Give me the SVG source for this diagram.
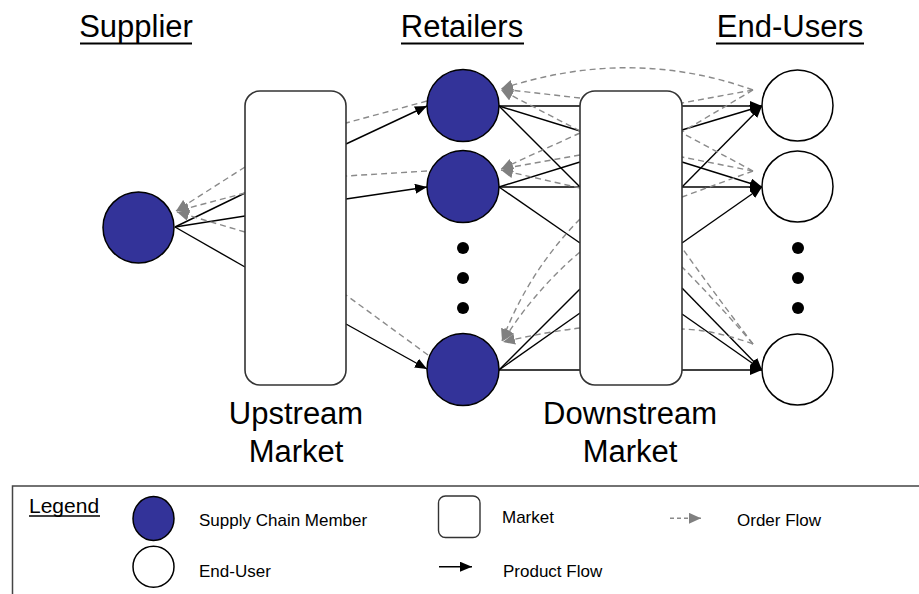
<svg xmlns="http://www.w3.org/2000/svg" width="919" height="594" viewBox="0 0 919 594">
  <defs>
    <style>
      .title { font-family: "Liberation Sans", Arial, sans-serif; font-size: 31px; fill: #000; text-anchor: middle; }
      .mlabel { font-family: "Liberation Sans", Arial, sans-serif; font-size: 31px; fill: #000; text-anchor: middle; }
      .ltext { font-family: "Liberation Sans", Arial, sans-serif; font-size: 17px; fill: #000; }
      .member { fill: #333399; stroke: #000; stroke-width: 1.5; }
      .enduser { fill: #fff; stroke: #000; stroke-width: 1.5; }
      .market { fill: #fff; stroke: #333; stroke-width: 1.6; }
      .dot { fill: #000; }
      .product { fill: none; stroke: #000; stroke-width: 1.4; }
      .order { fill: none; stroke: #8a8a8a; stroke-width: 1.4; stroke-dasharray: 6 4; }
      .ul { stroke: #000; stroke-width: 2.2; }
    </style>
    <marker id="arrowProduct" markerUnits="userSpaceOnUse" markerWidth="12" markerHeight="10" refX="12" refY="5" orient="auto">
      <path d="M0,0 L12,5 L0,10 z" fill="#000"/>
    </marker>
    <marker id="arrowOrder" markerUnits="userSpaceOnUse" markerWidth="12" markerHeight="11" refX="12" refY="5.5" orient="auto">
      <path d="M0,0 L12,5.5 L0,11 z" fill="#808080"/>
    </marker>
  </defs>

  <rect width="919" height="594" fill="#fff"/>

  <!-- column headings -->
  <g id="headings">
    <text class="title" x="136" y="37">Supplier</text>
    <line class="ul" x1="80" y1="43.5" x2="192" y2="43.5"/>
    <text class="title" x="462" y="37">Retailers</text>
    <line class="ul" x1="401" y1="43.5" x2="524" y2="43.5"/>
    <text class="title" x="790" y="37">End-Users</text>
    <line class="ul" x1="716" y1="43.5" x2="864" y2="43.5"/>
  </g>

  <!-- connectors -->
  <g id="connectors">
    <!-- supplier <-> upstream market -->
    <path class="product" d="M175,227 L245,193"/>
    <path class="product" d="M175,227 L245,216"/>
    <path class="product" d="M175,227 L245,267"/>
    <path class="order" d="M245,167 L176,211" marker-end="url(#arrowOrder)"/>
    <path class="order" d="M245,193 L177,211" marker-end="url(#arrowOrder)"/>
    <path class="order" d="M245,232 L177,212" marker-end="url(#arrowOrder)"/>

    <!-- upstream market <-> retailers -->
    <path class="product" d="M346,144 L427,106" marker-end="url(#arrowProduct)"/>
    <path class="product" d="M346,199 L427,187" marker-end="url(#arrowProduct)"/>
    <path class="product" d="M346,324 L427,369" marker-end="url(#arrowProduct)"/>
    <path class="order" d="M427,101 L346,123"/>
    <path class="order" d="M427,171 L346,176"/>
    <path class="order" d="M428,355 L346,295"/>

    <!-- retailers -> downstream market (product) -->
    <path class="product" d="M499,106 L580,106"/>
    <path class="product" d="M499,106 L580,131"/>
    <path class="product" d="M499,106 L580,187"/>
    <path class="product" d="M499,187 L580,162"/>
    <path class="product" d="M499,187 L580,187"/>
    <path class="product" d="M499,187 L580,243"/>
    <path class="product" d="M499,370 L580,289"/>
    <path class="product" d="M499,370 L580,313"/>
    <path class="product" d="M499,370 L580,370"/>

    <!-- downstream market -> retailers (orders) -->
    <path class="order" d="M753,90 Q630,46 501,89" marker-end="url(#arrowOrder)"/>
    <path class="order" d="M580,98 L501,89" marker-end="url(#arrowOrder)"/>
    <path class="order" d="M580,131 L501,90" marker-end="url(#arrowOrder)"/>
    <path class="order" d="M580,133 L501,169" marker-end="url(#arrowOrder)"/>
    <path class="order" d="M580,155 L501,169" marker-end="url(#arrowOrder)"/>
    <path class="order" d="M580,188 L501,170" marker-end="url(#arrowOrder)"/>
    <path class="order" d="M580,219 Q528,272 502,341" marker-end="url(#arrowOrder)"/>
    <path class="order" d="M580,252 Q535,290 503,341" marker-end="url(#arrowOrder)"/>
    <path class="order" d="M580,328 Q545,332 503,342" marker-end="url(#arrowOrder)"/>

    <!-- downstream market -> end-users (product) -->
    <path class="product" d="M682,106 L762,106" marker-end="url(#arrowProduct)"/>
    <path class="product" d="M682,130 L762,106" marker-end="url(#arrowProduct)"/>
    <path class="product" d="M682,187 L762,106" marker-end="url(#arrowProduct)"/>
    <path class="product" d="M682,162 L762,187" marker-end="url(#arrowProduct)"/>
    <path class="product" d="M682,187 L762,187" marker-end="url(#arrowProduct)"/>
    <path class="product" d="M682,243 L762,187" marker-end="url(#arrowProduct)"/>
    <path class="product" d="M682,288 L762,370" marker-end="url(#arrowProduct)"/>
    <path class="product" d="M682,314 L762,370" marker-end="url(#arrowProduct)"/>
    <path class="product" d="M682,370 L762,370" marker-end="url(#arrowProduct)"/>

    <!-- end-users -> downstream market (orders) -->
    <path class="order" d="M753,90 L682,103"/>
    <path class="order" d="M753,90 L682,132"/>
    <path class="order" d="M753,171 L682,133"/>
    <path class="order" d="M753,171 L682,157"/>
    <path class="order" d="M753,171 L682,197"/>
    <path class="order" d="M753,344 Q712,290 682,248"/>
    <path class="order" d="M753,344 Q715,300 682,267"/>
    <path class="order" d="M753,344 Q715,330 682,329"/>
  </g>

  <!-- supplier -->
  <g id="supplier">
    <circle class="member" cx="138.5" cy="227.5" r="35.5"/>
  </g>

  <!-- markets -->
  <g id="upstream-market">
    <rect class="market" x="245" y="91" width="101" height="294" rx="15" ry="15"/>
    <text class="mlabel" x="296" y="424">Upstream</text>
    <text class="mlabel" x="296" y="462">Market</text>
  </g>
  <g id="downstream-market">
    <rect class="market" x="580" y="91" width="102" height="294" rx="15" ry="15"/>
    <text class="mlabel" x="630" y="424">Downstream</text>
    <text class="mlabel" x="630" y="462">Market</text>
  </g>

  <!-- retailers -->
  <g id="retailer-1"><circle class="member" cx="463" cy="105.5" r="36"/></g>
  <g id="retailer-2"><circle class="member" cx="463" cy="186.5" r="36"/></g>
  <g id="retailer-dots">
    <circle class="dot" cx="463" cy="248" r="6"/>
    <circle class="dot" cx="463" cy="278" r="6"/>
    <circle class="dot" cx="463" cy="308" r="6"/>
  </g>
  <g id="retailer-n"><circle class="member" cx="463" cy="369.5" r="36"/></g>

  <!-- end-users -->
  <g id="enduser-1"><circle class="enduser" cx="797.5" cy="105.5" r="35.5"/></g>
  <g id="enduser-2"><circle class="enduser" cx="797.5" cy="186.5" r="35.5"/></g>
  <g id="enduser-dots">
    <circle class="dot" cx="798" cy="248" r="6"/>
    <circle class="dot" cx="798" cy="278" r="6"/>
    <circle class="dot" cx="798" cy="308" r="6"/>
  </g>
  <g id="enduser-n"><circle class="enduser" cx="797.5" cy="369.5" r="35.5"/></g>

  <!-- legend -->
  <g id="legend">
    <rect x="12.5" y="486" width="920" height="120" fill="#fff" stroke="#444" stroke-width="1.5"/>
    <text x="29" y="513" font-family="Liberation Sans, Arial, sans-serif" font-size="21px">Legend</text>
    <line x1="29" y1="516" x2="100" y2="516" stroke="#000" stroke-width="1.6"/>
    <ellipse class="member" cx="153.5" cy="518.5" rx="20.5" ry="22"/>
    <text class="ltext" x="199" y="526">Supply Chain Member</text>
    <circle class="enduser" cx="153.5" cy="566.7" r="20.5"/>
    <text class="ltext" x="199" y="577">End-User</text>
    <rect x="438.5" y="496" width="41.5" height="41.5" rx="7" fill="#fff" stroke="#333" stroke-width="1.4"/>
    <text class="ltext" x="502" y="523">Market</text>
    <line x1="670" y1="518.3" x2="701" y2="518.3" stroke="#8a8a8a" stroke-width="1.4" stroke-dasharray="4 3" marker-end="url(#arrowOrder)"/>
    <text class="ltext" x="737" y="526">Order Flow</text>
    <line x1="439" y1="566.7" x2="472" y2="566.7" stroke="#000" stroke-width="1.4" marker-end="url(#arrowProduct)"/>
    <text class="ltext" x="503" y="577">Product Flow</text>
  </g>
</svg>
